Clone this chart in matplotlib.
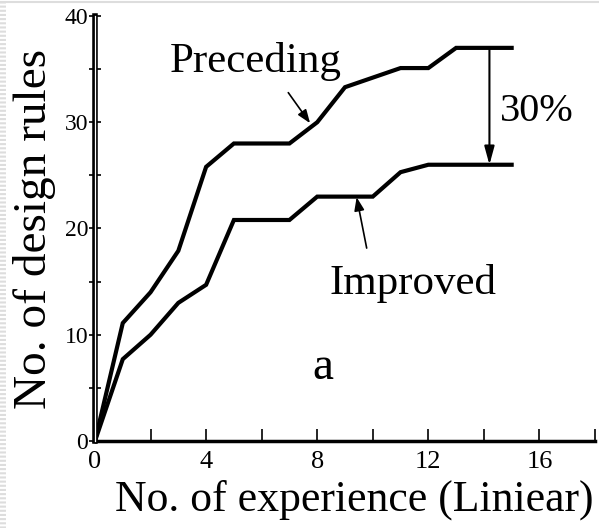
import matplotlib.pyplot as plt
from matplotlib.lines import Line2D

plt.rcParams['font.family'] = ['Liberation Serif', 'DejaVu Serif']

# readings
prec_x = [0, 1, 2, 3, 4, 5, 7, 8, 9, 11, 12, 13, 15]
prec_y = [0, 11.1, 14, 17.9, 25.8, 28, 28, 30, 33.3, 35.1, 35.1, 37, 37]
impr_x = [0, 1, 2, 3, 4, 5, 7, 8, 10, 11, 12, 15]
impr_y = [0, 7.7, 10, 13, 14.7, 20.8, 20.8, 23, 23, 25.3, 26, 26]

x_ticks = [0, 4, 8, 12, 16]
y_ticks = [0, 10, 20, 30, 40]

fig = plt.figure(figsize=(5.99, 5.28), dpi=100)
ax = fig.add_axes([0.1586, 0.1648, 0.8347, 0.8049])

ax.plot(prec_x, prec_y, color='black', lw=3, solid_joinstyle='miter', clip_on=False)
ax.plot(impr_x, impr_y, color='black', lw=3, solid_joinstyle='miter', clip_on=False)

ax.set_xlim(0, 18)
ax.set_ylim(0, 40)
for s in ['top', 'right']:
    ax.spines[s].set_visible(False)
ax.spines['left'].set_linewidth(4)
ax.spines['bottom'].set_linewidth(2.5)
# the y axis in the picture is a double line
ax.axvline(0, color='white', lw=0.9, zorder=3, clip_on=False)

ax.set_xticks(x_ticks)
ax.set_xticks(range(0, 19, 2), minor=True)
ax.set_yticks(y_ticks)
ax.set_yticks(range(0, 41, 5), minor=True)
ax.tick_params(axis='x', which='both', direction='in', length=9, width=1.2,
               labelsize=19, pad=7)
ax.tick_params(axis='y', which='both', direction='inout', length=8, width=1.2,
               labelsize=17, pad=1)

ax.set_xlabel('No. of experience (Liniear)', fontsize=31.5, labelpad=8)
ax.xaxis.set_label_coords(0.518, -0.09)
ax.set_ylabel('No. of design rules', fontsize=34, labelpad=6)

ax.text(2.7, 34.7, 'Preceding', fontsize=31, ha='left', va='baseline')
ax.text(8.45, 13.8, 'Improved', fontsize=31, ha='left', va='baseline')
ax.text(7.84, 5.85, 'a', fontsize=34, ha='left', va='baseline')
ax.text(14.57, 30.1, '30%', fontsize=29, ha='left', va='baseline')

arrow = dict(arrowstyle='-|>,head_length=0.8,head_width=0.3', color='black', lw=1.2)
ax.annotate('', xy=(7.8, 29.7), xytext=(6.9, 33.0), arrowprops=arrow)
ax.annotate('', xy=(9.4, 23.2), xytext=(9.8, 17.9), arrowprops=arrow)
ax.annotate('', xy=(14.2, 26.0), xytext=(14.2, 37.0),
            arrowprops=dict(arrowstyle='-|>,head_length=1.1,head_width=0.3',
                            color='black', lw=1.5, shrinkA=0, shrinkB=0))

# faint scan border
fig.add_artist(Line2D([0, 1], [0.996, 0.996], color='#dddddd', lw=1.5))
fig.add_artist(Line2D([0.004, 0.004], [0, 1], color='#dddddd', lw=5, ls=(0, (0.3, 0.3))))

fig.savefig('out.png', dpi=100)
